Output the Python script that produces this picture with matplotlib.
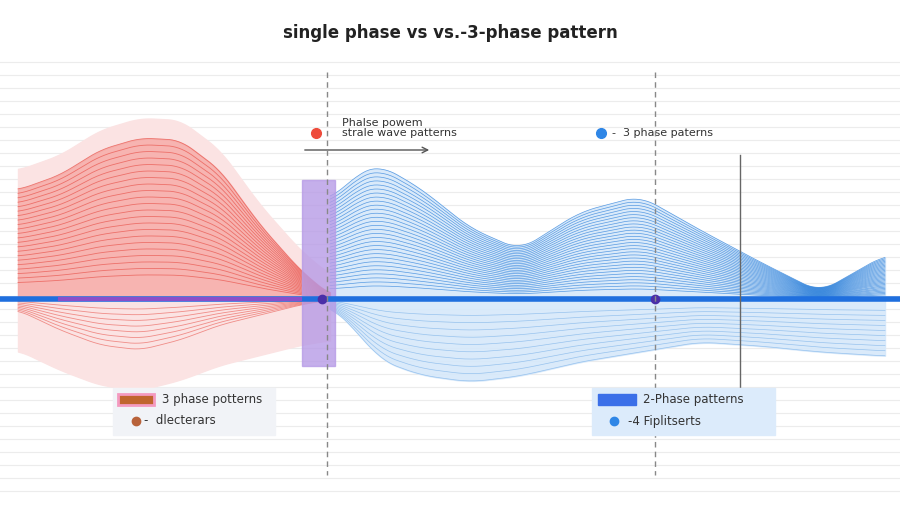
import numpy as np
import matplotlib
matplotlib.use("Agg")
import matplotlib.pyplot as plt

title = "single phase vs vs.-3-phase pattern"
red_x = [18, 60, 100, 140, 180, 220, 260, 300, 330]
red_top = [190, 175, 150, 138, 140, 170, 225, 270, 295]
red_bot = [310, 330, 345, 350, 340, 325, 315, 305, 300]
blue_x = [330, 360, 380, 420, 470, 520, 580, 640, 700, 760, 820, 885]
blue_top = [200, 172, 165, 188, 228, 250, 212, 196, 230, 262, 292, 255]
blue_bot = [305, 335, 360, 375, 382, 376, 362, 352, 342, 346, 352, 356]
annot_left = "Phalse powem\nstrale wave patterns"
annot_right = "3 phase paterns"
legend_left = ["3 phase potterns", "dlecterars"]
legend_right = ["2-Phase patterns", "-4 Fiplitserts"]

fig = plt.figure(figsize=(9, 5.14), dpi=100)
ax = fig.add_axes([0, 0, 1, 1])
ax.set_xlim(0, 900); ax.set_ylim(514, 0); ax.axis("off")

for y in np.arange(62, 500, 13):
    ax.axhline(y, color="#ececec", lw=0.8, zorder=0)

def smooth(xs, ys, xx):
    yy = np.interp(xx, xs, ys)
    k = np.ones(25) / 25
    return np.convolve(np.pad(yy, 12, mode="edge"), k, mode="valid")

base = 299
xr = np.linspace(red_x[0], red_x[-1], 300)
rt, rb = smooth(red_x, red_top, xr), smooth(red_x, red_bot, xr)
ax.fill_between(xr, rt - 20, rb + 40, color="#fbe3e3", zorder=1)
ax.fill_between(xr, rt, base, color="#f6a9a5", alpha=0.8, zorder=2)
for f in np.linspace(0.15, 1, 22):
    ax.plot(xr, base + (rt - base) * f, color="#e8534b", lw=0.6, alpha=0.7, zorder=3)
for f in np.linspace(0.2, 1, 8):
    ax.plot(xr, base + (rb - base) * f, color="#e8534b", lw=0.6, alpha=0.6, zorder=3)

xb = np.linspace(blue_x[0], blue_x[-1], 400)
bt, bb = smooth(blue_x, blue_top, xb), smooth(blue_x, blue_bot, xb)
ax.fill_between(xb, bt, bb, color="#d6e8fa", alpha=0.9, zorder=1)
for f in np.linspace(0.1, 1, 30):
    ax.plot(xb, base + (bt - base) * f, color="#1f78d8", lw=0.5, alpha=0.7, zorder=3)
for f in np.linspace(0.2, 1, 10):
    ax.plot(xb, base + (bb - base) * f, color="#6aa8e6", lw=0.5, alpha=0.6, zorder=3)

ax.add_patch(plt.Rectangle((302, 180), 33, 186, color="#b79be6", alpha=0.8, zorder=4))
ax.plot([0, 900], [base, base], color="#1f6fde", lw=4, zorder=5)
ax.plot([60, 300], [base, base], color="#8a4fc9", lw=3, zorder=5)
ax.plot([322, 655], [base, base], "o", color="#4a2fa8", ms=6, zorder=6)

for x in (327, 655):
    ax.plot([x, x], [72, 475], color="#888888", lw=1, ls=(0, (4, 3)), zorder=6)
ax.plot([740, 740], [155, 390], color="#666666", lw=1, zorder=6)

ax.text(450, 33, title, ha="center", va="center", fontsize=12, fontweight="bold", color="#222")
ax.plot(316, 133, "o", color="#ee4b3b", ms=7, zorder=7)
ax.text(342, 128, annot_left, fontsize=8, va="center", color="#333", linespacing=1.1)
ax.annotate("", xy=(432, 150), xytext=(302, 150),
            arrowprops=dict(arrowstyle="->", color="#555", lw=1))
ax.plot(601, 133, "o", color="#2f86e6", ms=7, zorder=7)
ax.text(612, 133, "-  " + annot_right, fontsize=8, va="center", color="#333")

ax.add_patch(plt.Rectangle((113, 388), 162, 47, color="#f1f3f7", zorder=7))
ax.add_patch(plt.Rectangle((118, 394), 36, 11, color="#c0652e", ec="#f49ac0", lw=2, zorder=8))
ax.text(162, 399, legend_left[0], fontsize=8.5, va="center", color="#333", zorder=8)
ax.plot(136, 421, "o", color="#b8623a", ms=6, zorder=8)
ax.text(144, 421, "-  " + legend_left[1], fontsize=8.5, va="center", color="#333", zorder=8)

ax.add_patch(plt.Rectangle((592, 388), 183, 47, color="#dcebfb", zorder=7))
ax.add_patch(plt.Rectangle((598, 394), 38, 11, color="#3b6fe8", zorder=8))
ax.text(643, 399, legend_right[0], fontsize=8.5, va="center", color="#333", zorder=8)
ax.plot(614, 421, "o", color="#2f86e6", ms=6, zorder=8)
ax.text(628, 421, legend_right[1], fontsize=8.5, va="center", color="#333", zorder=8)

fig.savefig("out.png", dpi=100)
